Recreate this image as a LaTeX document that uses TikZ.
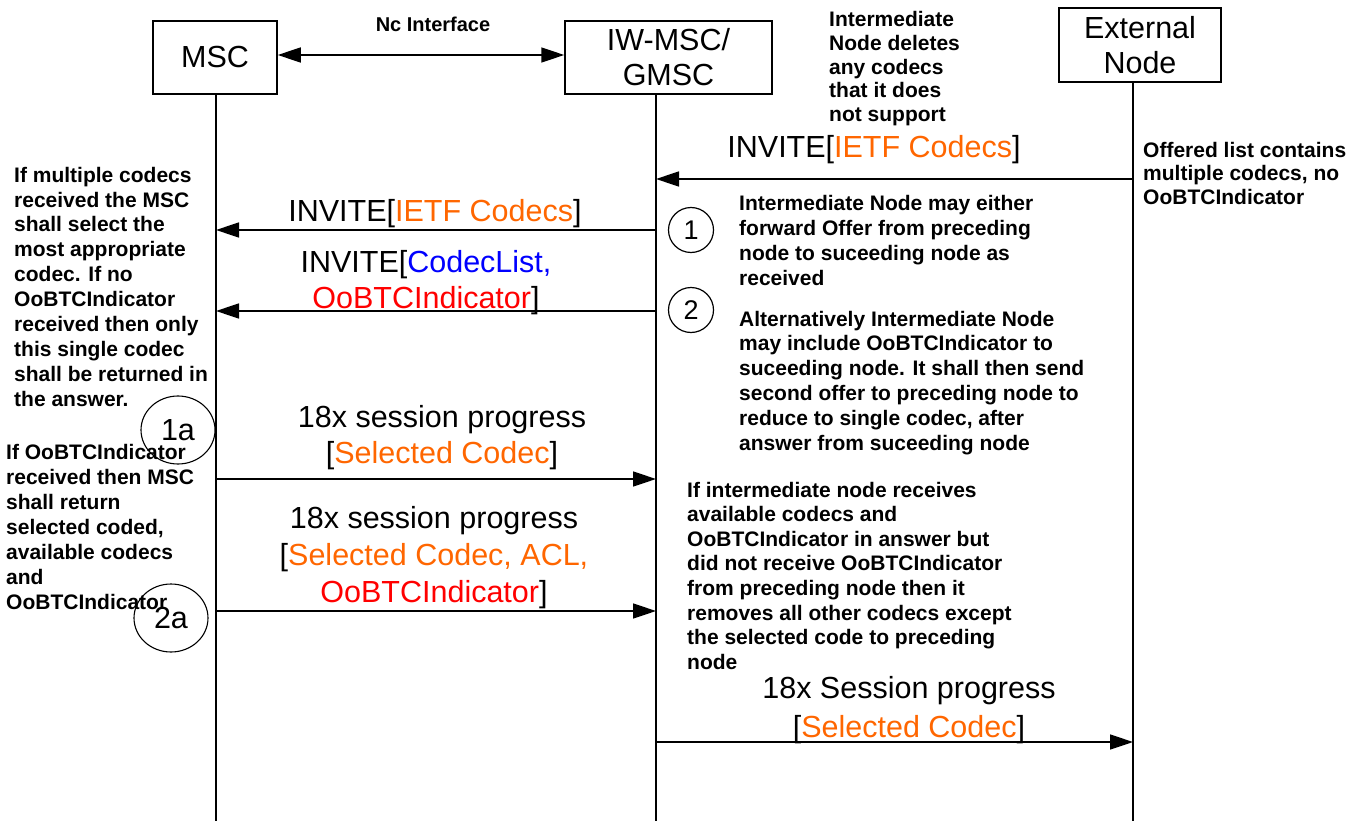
\documentclass[tikz,border=0pt]{standalone}
\usepackage{fontspec}
\setmainfont{Liberation Sans}
\usetikzlibrary{arrows.meta,shapes.geometric}
\definecolor{ora}{RGB}{255,102,0}
\definecolor{blu}{RGB}{0,0,255}
\definecolor{rd}{RGB}{255,0,0}
\begin{document}
\begin{tikzpicture}[x=1pt,y=-1pt,
  entity/.style={draw, line width=1.5pt, inner sep=0pt, align=center,
    font=\fontsize{30.5}{35}\selectfont},
  life/.style={line width=1.3pt},
  msg/.style={line width=1.5pt, -{Triangle[length=23pt,width=15pt]}},
  note/.style={inner sep=0pt, align=left, anchor=north west,
    font=\fontsize{21}{24.7}\selectfont\bfseries},
  lbl/.style={inner sep=0pt, align=center, font=\fontsize{30.5}{36.5}\selectfont},
  num/.style={draw, circle, line width=1.2pt, minimum size=45pt, inner sep=0pt,
    font=\fontsize{27}{27}\selectfont},
  oval/.style={draw, ellipse, line width=1.1pt, minimum width=74pt, minimum height=68pt,
    inner sep=0pt, font=\fontsize{30.5}{30.5}\selectfont}
]
\useasboundingbox (0,0) rectangle (1367,821);

% entities
\node[entity, minimum width=124pt, minimum height=73pt] (msc) at (215,57.5) {MSC};
\node[entity, minimum width=207pt, minimum height=73pt] (iw) at (668.5,57.5) {IW-MSC/\\GMSC};
\node[entity, minimum width=162pt, minimum height=74pt] (ext) at (1140,45) {External\\Node};

% lifelines
\coordinate (mscTop) at (216,94);  \coordinate (mscBot) at (216,821);
\coordinate (iwTop) at (656,94);   \coordinate (iwBot) at (656,821);
\coordinate (extTop) at (1133,82); \coordinate (extBot) at (1133,821);
\draw[life] (mscTop) -- (mscBot);
\draw[life] (iwTop) -- (iwBot);
\draw[life] (extTop) -- (extBot);

% Nc interface
\draw[line width=1.5pt, {Triangle[length=23pt,width=15pt]}-{Triangle[length=23pt,width=15pt]}]
  ([yshift=2.5pt]msc.east) -- ([yshift=2.5pt]iw.west);
\node[inner sep=0pt, anchor=base, font=\fontsize{20}{20}\selectfont\bfseries] (nc) at (433,32) {Nc Interface};

% message end points
\coordinate (m1a) at (1133,179); \coordinate (m1b) at (656,179);
\coordinate (m2a) at (656,230);  \coordinate (m2b) at (216,230);
\coordinate (m3a) at (656,311);  \coordinate (m3b) at (216,311);
\coordinate (m4a) at (216,479);  \coordinate (m4b) at (656,479);
\coordinate (m5a) at (216,611);  \coordinate (m5b) at (656,611);
\coordinate (m6a) at (656,742);  \coordinate (m6b) at (1133,742);
\draw[msg] (m1a) -- (m1b);
\draw[msg] (m2a) -- (m2b);
\draw[msg] (m3a) -- (m3b);
\draw[msg] (m4a) -- (m4b);
\draw[msg] (m5a) -- (m5b);
\draw[msg] (m6a) -- (m6b);

% message labels
\node[lbl, anchor=base] (l1) at (874,158) {INVITE[\textcolor{ora}{IETF Codecs}]};
\node[lbl, anchor=base] (l2) at (435,221) {INVITE[\textcolor{ora}{IETF Codecs}]};
\node[lbl, anchor=north, font=\fontsize{30.5}{36}\selectfont] (l3) at (426,249.8)
  {INVITE[\textcolor{blu}{CodecList,}\\\textcolor{rd}{OoBTCIndicator}]};
\node[lbl, anchor=north, font=\fontsize{30.5}{36}\selectfont] (l4) at (442,404.8)
  {18x session progress\\{[}\textcolor{ora}{Selected Codec}]};
\node[lbl, anchor=north, font=\fontsize{30.5}{37}\selectfont] (l5) at (434,505.8)
  {18x session progress\\{[}\textcolor{ora}{Selected Codec, ACL,}\\\textcolor{rd}{OoBTCIndicator}]};
\node[lbl, anchor=north, font=\fontsize{30.5}{39}\selectfont] (l6) at (909,675.8)
  {18x Session progress\\{[}\textcolor{ora}{Selected Codec}]};

% numbered markers
\node[num] (c1) at (691,230) {1};
\node[num] (c2) at (691,310) {2};
\node[oval] (c1a) at (178,430) {1a};
\node[oval] (c2a) at (171,618) {2a};

% notes
\node[note, font=\fontsize{21}{23.8}\selectfont\bfseries] (n1) at (829,11)
  {Intermediate\\Node deletes\\any codecs\\that it does\\not support};
\node[note, font=\fontsize{21}{23.5}\selectfont\bfseries] (n2) at (1143,141.7)
  {Offered list contains\\multiple codecs, no\\OoBTCIndicator};
\node[note, font=\fontsize{21}{24.9}\selectfont\bfseries] (n3) at (14,166.7)
  {If multiple codecs\\received the MSC\\shall select the\\most appropriate\\codec. If no\\OoBTCIndicator\\received then only\\this single codec\\shall be returned in\\the answer.};
\node[note, font=\fontsize{21}{25}\selectfont\bfseries] (n4) at (6,444)
  {If OoBTCIndicator\\received then MSC\\shall return\\selected coded,\\available codecs\\and\\OoBTCIndicator};
\node[note, font=\fontsize{21}{25}\selectfont\bfseries] (n5) at (739,194.7)
  {Intermediate Node may either\\forward Offer from preceding\\node to suceeding node as\\received};
\node[note, font=\fontsize{21}{24.8}\selectfont\bfseries] (n6) at (739,310.7)
  {Alternatively Intermediate Node\\may include OoBTCIndicator to\\suceeding node. It shall then send\\second offer to preceding node to\\reduce to single codec, after\\answer from suceeding node};
\node[note, font=\fontsize{21}{24.6}\selectfont\bfseries] (n7) at (687,481.7)
  {If intermediate node receives\\available codecs and\\OoBTCIndicator in answer but\\did not receive OoBTCIndicator\\from preceding node then it\\removes all other codecs except\\the selected code to preceding\\node};
\end{tikzpicture}
\end{document}
